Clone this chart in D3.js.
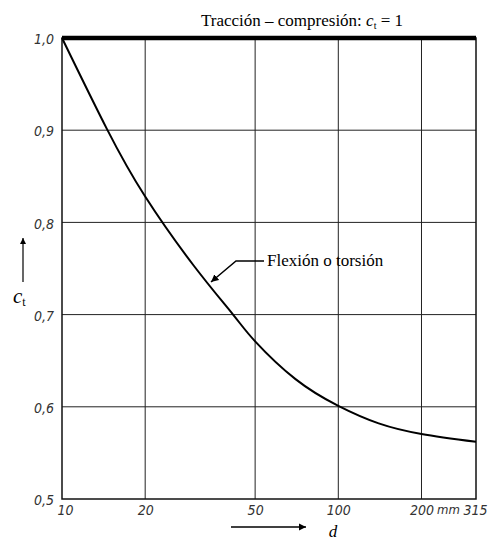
<!DOCTYPE html>
<html>
<head>
<meta charset="utf-8">
<script src="https://cdn.jsdelivr.net/npm/d3@7"></script>
<style>
  body { margin: 0; background: #fff; }
  .tick text { font-family: "Liberation Sans Narrow", "DejaVu Sans Condensed", sans-serif; font-style: italic; font-size: 14px; fill: #333; }
</style>
</head>
<body>
<div id="chart"></div>
<script>
// values (d in mm, c_t)
var diam = [10, 14.5, 20, 30, 41.6, 50, 70, 100, 140, 200, 315];
var ct   = [1.0, 0.902, 0.828, 0.753, 0.7, 0.671, 0.630, 0.601, 0.582, 0.5705, 0.562];
var xTicks = [10, 20, 50, 100, 200, 315];
var yTicks = [0.5, 0.6, 0.7, 0.8, 0.9, 1.0];

var W = 488, H = 540;
var m = {top: 38, right: 12, bottom: 41, left: 62};
var w = W - m.left - m.right, h = H - m.top - m.bottom;

var svg = d3.select("#chart").append("svg").attr("width", W).attr("height", H);
var g = svg.append("g").attr("transform", "translate(" + m.left + "," + m.top + ")");

var x = d3.scaleLog().domain([10, 315]).range([0, w]);
var y = d3.scaleLinear().domain([0.5, 1.0]).range([h, 0]);

// grid
g.selectAll(".vg").data(xTicks.slice(1, -1)).enter().append("line")
  .attr("x1", d => x(d)).attr("x2", d => x(d)).attr("y1", 0).attr("y2", h)
  .attr("stroke", "#222").attr("stroke-width", 1);
g.selectAll(".hg").data(yTicks.slice(1, -1)).enter().append("line")
  .attr("x1", 0).attr("x2", w).attr("y1", d => y(d)).attr("y2", d => y(d))
  .attr("stroke", "#222").attr("stroke-width", 1);

// frame
g.append("rect").attr("width", w).attr("height", h)
  .attr("fill", "none").attr("stroke", "#111").attr("stroke-width", 1.5);
g.append("line").attr("x1", 0).attr("x2", w).attr("y1", y(1)).attr("y2", y(1))
  .attr("stroke", "#000").attr("stroke-width", 4.5);

// axes
var fmt = d3.format(".1f");
var ya = g.append("g").call(d3.axisLeft(y).tickValues(yTicks).tickSize(0).tickPadding(8)
  .tickFormat(d => fmt(d).replace(".", ",")));
ya.select(".domain").remove();
ya.selectAll(".tick text").attr("dy", "0.4em");

var xa = g.append("g").attr("transform", "translate(0," + h + ")")
  .call(d3.axisBottom(x).tickValues(xTicks).tickSize(0).tickPadding(6).tickFormat(d3.format("d")));
xa.select(".domain").remove();
xa.selectAll(".tick text").filter(d => d === 10).attr("dx", 3);
xa.selectAll(".tick text").filter(d => d === 315).attr("dx", -1);
xa.append("text").attr("x", x(200) + 27).attr("y", 6).attr("dy", "0.71em")
  .attr("text-anchor", "middle")
  .style("font-family", "'Liberation Sans Narrow', 'DejaVu Sans Condensed', sans-serif")
  .style("font-style", "italic").style("font-size", "13px").attr("fill", "#333").text("mm");

// curve
var line = d3.line().x(d => x(d[0])).y(d => y(d[1])).curve(d3.curveNatural);
g.append("path").datum(d3.zip(diam, ct)).attr("d", line)
  .attr("fill", "none").attr("stroke", "#000").attr("stroke-width", 2);

// markers
var defs = svg.append("defs");
defs.append("marker").attr("id", "ah").attr("viewBox", "0 0 10 10").attr("refX", 10).attr("refY", 5)
  .attr("markerWidth", 5).attr("markerHeight", 5).attr("orient", "auto")
  .append("path").attr("d", "M0,0L10,5L0,10z").attr("fill", "#000");

// label with leader
svg.append("path").attr("d", "M264,261 L236,261 L211,282")
  .attr("fill", "none").attr("stroke", "#000").attr("stroke-width", 1.5)
  .attr("marker-end", "url(#ah)");
svg.append("text").attr("x", 267).attr("y", 266)
  .style("font-family", "'Liberation Serif', serif").style("font-size", "17px")
  .text("Flexión o torsión");

// title
var t = svg.append("text").attr("x", 302).attr("y", 26).attr("text-anchor", "middle")
  .style("font-family", "'Liberation Serif', serif").style("font-size", "17px");
t.append("tspan").text("Tracción – compresión: ");
t.append("tspan").style("font-style", "italic").text("c");
t.append("tspan").attr("dy", 3).style("font-size", "10px").text("t");
t.append("tspan").attr("dy", -3).text(" = 1");

// y axis title
svg.append("line").attr("x1", 23).attr("x2", 23).attr("y1", 282).attr("y2", 238)
  .attr("stroke", "#000").attr("stroke-width", 1.2).attr("marker-end", "url(#ah)");
var yt = svg.append("text").attr("x", 13).attr("y", 303)
  .style("font-family", "'Liberation Serif', serif").style("font-size", "21px");
yt.append("tspan").style("font-style", "italic").text("c");
yt.append("tspan").attr("dy", 3).style("font-size", "12px").text("t");

// x axis title
svg.append("line").attr("x1", 231).attr("x2", 306).attr("y1", 527).attr("y2", 527)
  .attr("stroke", "#000").attr("stroke-width", 1.5).attr("marker-end", "url(#ah)");
svg.append("text").attr("x", 333).attr("y", 537).attr("text-anchor", "middle")
  .style("font-family", "'Liberation Serif', serif").style("font-style", "italic").style("font-size", "17px")
  .text("d");
</script>
</body>
</html>
